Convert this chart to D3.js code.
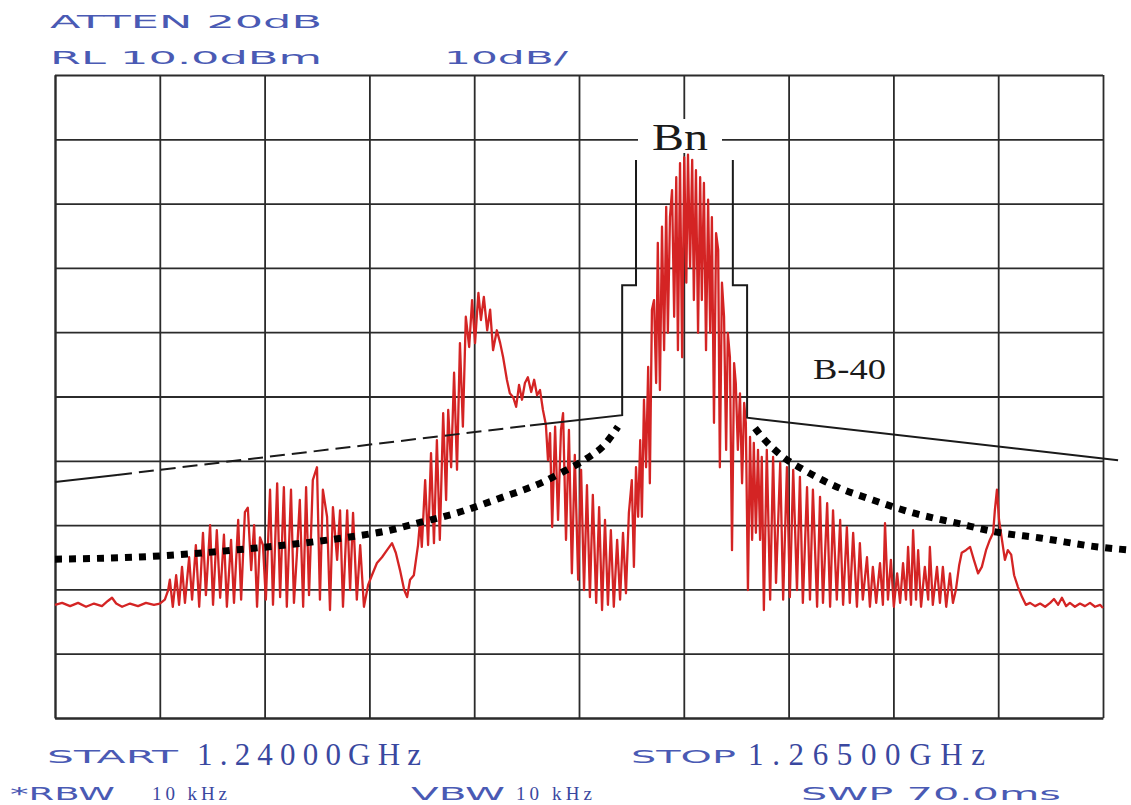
<!DOCTYPE html>
<html>
<head>
<meta charset="utf-8">
<script src="https://cdn.jsdelivr.net/npm/d3@7"></script>
<style>
  body { margin: 0; background: #fff; }
  svg { display: block; }
  .grid line { stroke: #2b2b2b; stroke-width: 1.8; }
  .grid path { stroke: #2b2b2b; stroke-width: 2; }
  .ana { font-family: "DejaVu Sans", sans-serif; fill: #4a5ab4; font-size: 18px; }
  .num { font-family: "Liberation Serif", serif; fill: #3a48a0; }
  .note { font-family: "Liberation Serif", serif; fill: #1a1a1a; }
</style>
</head>
<body>
<div id="chart"></div>
<script>
// analyzer settings
var startMHz = 1240, stopMHz = 1265;
var refLevel = 10, dbPerDiv = 10, divisions = 10;
var freqTicks = [1240, 1242.5, 1245, 1247.5, 1250, 1252.5, 1255, 1257.5, 1260, 1262.5, 1265];
var levelTicks = [10, 0, -10, -20, -30, -40, -50, -60, -70, -80, -90];

// measured trace [MHz, dBm]
var trace = [
  [1240.00,-72.4],[1240.17,-72.1],[1240.36,-72.6],[1240.55,-72.1],[1240.74,-72.7],[1240.93,-72.2],
  [1241.12,-72.6],[1241.26,-71.8],[1241.36,-71.3],[1241.46,-72.2],[1241.60,-72.7],[1241.79,-72.2],
  [1241.98,-72.6],[1242.17,-72.1],[1242.36,-72.4],[1242.50,-72.2],[1242.62,-71.6],
  [1242.70,-70.1],[1242.74,-68.5],[1242.81,-72.7],[1242.89,-67.8],[1242.96,-72.4],[1243.03,-66.5],
  [1243.10,-72.1],[1243.20,-65.0],[1243.27,-71.6],[1243.36,-63.1],[1243.44,-72.7],[1243.53,-61.2],
  [1243.60,-70.9],[1243.70,-60.0],[1243.77,-72.4],[1243.86,-60.8],[1243.94,-71.3],[1244.03,-61.5],
  [1244.10,-72.7],[1244.20,-62.3],[1244.27,-72.1],[1244.37,-59.2],[1244.44,-71.6],[1244.53,-58.0],
  [1244.60,-57.3],[1244.68,-67.0],[1244.75,-60.0],[1244.82,-72.7],[1244.89,-61.9],[1244.96,-63.1],
  [1245.03,-71.6],[1245.13,-54.5],[1245.20,-72.4],[1245.30,-53.5],[1245.37,-71.2],[1245.46,-54.1],
  [1245.53,-72.7],[1245.63,-54.5],[1245.70,-72.1],[1245.77,-64.6],[1245.84,-56.1],[1245.92,-72.7],
  [1245.99,-54.1],[1246.06,-70.9],[1246.15,-53.0],[1246.25,-51.0],[1246.32,-71.6],[1246.39,-54.5],
  [1246.49,-58.7],[1246.56,-73.2],[1246.63,-57.2],[1246.73,-65.4],[1246.80,-57.7],[1246.87,-72.7],
  [1246.97,-57.7],[1247.04,-70.1],[1247.11,-58.1],[1247.20,-71.6],[1247.28,-63.1],[1247.37,-72.7],
  [1247.47,-69.3],[1247.56,-67.8],[1247.68,-65.9],[1247.80,-65.0],[1247.92,-63.9],[1248.04,-62.8],
  [1248.13,-64.3],[1248.23,-67.0],[1248.33,-70.1],[1248.40,-71.2],[1248.47,-68.5],[1248.56,-67.8],
  [1248.66,-63.1],
  [1248.71,-59.2],[1248.75,-63.4],[1248.83,-53.0],[1248.90,-63.1],[1248.97,-48.8],[1249.04,-62.8],
  [1249.11,-46.8],[1249.18,-62.3],[1249.26,-42.6],[1249.33,-56.1],[1249.38,-42.1],[1249.45,-51.0],
  [1249.52,-36.3],[1249.59,-51.4],[1249.66,-31.7],[1249.73,-44.7],[1249.80,-27.6],[1249.88,-32.3],
  [1249.95,-25.0],[1250.02,-31.7],[1250.10,-23.9],[1250.16,-28.1],[1250.23,-24.5],[1250.31,-29.7],
  [1250.38,-26.5],[1250.45,-32.8],[1250.54,-29.7],[1250.62,-31.7],[1250.69,-33.9],[1250.78,-37.4],
  [1250.85,-39.5],[1250.93,-40.1],[1251.00,-41.6],[1251.07,-38.2],[1251.14,-40.5],[1251.21,-37.9],
  [1251.28,-37.0],[1251.36,-39.3],[1251.43,-37.4],[1251.50,-39.8],[1251.57,-39.0],[1251.64,-42.1],
  [1251.71,-44.4],[1251.76,-49.9],[1251.81,-45.7],[1251.86,-60.3],[1251.93,-44.7],[1252.00,-59.2],
  [1252.07,-45.2],[1252.12,-42.6],[1252.19,-62.3],[1252.26,-45.2],[1252.33,-67.5],[1252.40,-49.1],
  [1252.48,-68.5],[1252.55,-51.4],[1252.62,-70.1],[1252.69,-53.8],[1252.76,-71.2],[1252.83,-55.3],
  [1252.91,-72.1],[1252.98,-57.2],[1253.05,-73.2],[1253.12,-59.2],[1253.19,-72.4],[1253.26,-60.8],
  [1253.33,-72.7],[1253.41,-62.3],[1253.48,-71.6],[1253.55,-61.2],[1253.62,-70.6],[1253.69,-58.1],
  [1253.76,-53.0],[1253.81,-66.5],[1253.86,-51.0],[1253.91,-58.7],[1253.96,-46.8],[1254.00,-58.7],
  [1254.05,-40.5],[1254.10,-51.0],[1254.15,-35.4],[1254.19,-53.5],[1254.24,-26.5],[1254.29,-25.0],
  [1254.34,-37.9],[1254.38,-16.1],[1254.43,-39.0],[1254.48,-13.6],[1254.53,-32.8],[1254.58,-10.5],
  [1254.62,-30.1],[1254.67,-12.1],[1254.72,-7.9],[1254.77,-27.6],[1254.82,-5.9],[1254.86,-32.8],
  [1254.91,-3.7],[1254.96,-33.9],[1255.01,-2.8],[1255.06,-22.3],[1255.10,-2.4],[1255.15,-19.9],
  [1255.20,-3.2],[1255.24,-25.0],[1255.29,-4.8],[1255.34,-30.1],[1255.39,-5.9],[1255.43,-25.0],
  [1255.48,-6.8],[1255.53,-32.8],[1255.58,-9.4],[1255.63,-30.1],[1255.67,-12.1],[1255.72,-44.1],
  [1255.77,-14.6],[1255.82,-17.2],[1255.86,-51.0],[1255.91,-22.3],[1255.96,-27.6],[1256.01,-48.3],
  [1256.05,-30.1],[1256.10,-33.9],[1256.15,-63.9],[1256.20,-34.8],[1256.24,-37.9],[1256.29,-48.3],
  [1256.34,-39.5],[1256.39,-53.5],[1256.44,-41.0],[1256.48,-44.1],[1256.53,-70.1],[1256.58,-46.3],
  [1256.63,-62.3],[1256.67,-47.2],[1256.72,-61.2],[1256.77,-48.3],[1256.82,-62.3],[1256.86,-49.4],
  [1256.91,-73.2],
  [1256.98,-48.3],[1257.06,-71.6],[1257.13,-49.4],[1257.20,-69.0],[1257.30,-50.3],[1257.37,-71.6],
  [1257.46,-51.0],[1257.53,-71.2],[1257.61,-51.4],[1257.70,-70.1],[1257.77,-52.5],[1257.84,-72.1],
  [1257.94,-54.1],[1258.01,-71.6],[1258.08,-54.5],[1258.18,-72.7],[1258.25,-55.6],[1258.32,-72.1],
  [1258.42,-56.6],[1258.49,-72.7],[1258.56,-57.7],[1258.65,-71.6],[1258.73,-59.2],[1258.80,-72.4],
  [1258.89,-60.3],[1258.96,-72.1],[1259.04,-61.2],[1259.13,-72.7],[1259.20,-62.8],[1259.27,-71.6],
  [1259.37,-65.0],[1259.44,-72.7],[1259.51,-66.5],[1259.59,-72.1],[1259.68,-65.9],[1259.75,-72.4],
  [1259.80,-59.7],[1259.87,-71.6],[1259.94,-65.4],[1260.01,-72.7],[1260.09,-67.5],[1260.16,-72.1],
  [1260.23,-65.9],[1260.30,-71.6],[1260.35,-63.4],[1260.42,-72.4],[1260.47,-60.8],[1260.54,-71.6],
  [1260.59,-63.9],[1260.66,-72.7],[1260.75,-66.5],[1260.83,-71.6],[1260.87,-63.4],[1260.94,-72.4],
  [1261.04,-66.5],[1261.11,-72.1],[1261.18,-66.5],[1261.26,-72.7],[1261.35,-67.5],[1261.42,-72.1],
  [1261.49,-70.1],[1261.57,-66.2],[1261.63,-64.3],[1261.73,-63.9],[1261.83,-63.4],[1261.92,-65.4],
  [1262.02,-67.5],[1262.11,-66.5],[1262.21,-63.9],[1262.30,-62.3],[1262.38,-61.2],[1262.42,-57.7],
  [1262.47,-54.5],[1262.52,-59.2],[1262.59,-62.3],[1262.66,-65.4],[1262.73,-63.9],[1262.81,-64.6],
  [1262.88,-67.8],[1262.97,-69.6],[1263.07,-71.2],[1263.16,-72.4],[1263.26,-72.1],[1263.38,-72.6],
  [1263.50,-72.2],[1263.62,-72.7],[1263.74,-72.1],[1263.83,-71.5],[1263.93,-72.4],[1264.02,-71.3],
  [1264.12,-72.6],[1264.21,-72.1],[1264.33,-72.7],[1264.45,-72.2],[1264.57,-72.6],[1264.69,-72.1],
  [1264.81,-72.7],[1264.93,-72.4],[1265.00,-72.9]
];

// emission mask (solid / dashed parts)
var maskLeftSolidA = [[1240.00,-53.3],[1241.48,-52.2]];
var maskLeftDashed = [[1241.48,-52.2],[1251.33,-44.5]];
var maskLeftSolidB = [[1251.33,-44.5],[1253.53,-42.9],[1253.53,-22.7],[1253.86,-22.7],[1253.86,-3.2]];
var maskRight = [[1256.17,-3.2],[1256.17,-22.7],[1256.51,-22.7],[1256.51,-43.3],[1265.36,-49.9]];

// dotted limit curves
var limitLeft = [[1240.00,-65.3],[1242.50,-64.8],[1244.58,-63.7],[1245.92,-62.8],[1246.97,-61.9],
  [1247.99,-60.8],[1248.64,-59.7],[1249.59,-58.1],[1250.62,-55.8],[1251.64,-53.3],[1252.21,-51.4],
  [1252.52,-50.3],[1252.81,-49.1],[1253.05,-47.9],[1253.29,-46.0],[1253.43,-44.7]];
var limitRight = [[1256.70,-44.9],[1256.87,-46.3],[1257.37,-49.4],[1257.94,-51.7],[1258.56,-53.8],
  [1259.51,-56.1],[1260.47,-58.1],[1261.52,-59.7],[1262.47,-61.1],[1263.50,-62.0],[1264.88,-63.4],
  [1265.67,-63.9]];

var headerLines = ["ATTEN 20dB", "RL 10.0dBm", "10dB/"];
var footerLabels = ["START", "1.24000GHz", "STOP", "1.26500GHz", "*RBW", "10 kHz", "VBW", "10 kHz", "SWP 70.0ms"];

var W = 1131, H = 805;
var margin = {top: 75, left: 55, right: 28, bottom: 87};
var width = W - margin.left - margin.right,
    height = H - margin.top - margin.bottom;

var svg = d3.select("#chart").append("svg")
    .attr("width", W).attr("height", H);

var x = d3.scaleLinear().domain([startMHz, stopMHz]).range([margin.left, margin.left + width]);
var y = d3.scaleLinear().domain([refLevel - dbPerDiv * divisions, refLevel]).range([margin.top + height, margin.top]);

// graticule
svg.append("g").attr("class", "grid")
  .attr("transform", "translate(0," + (margin.top + height) + ")")
  .call(d3.axisBottom(x).tickValues(freqTicks).tickSize(-height).tickFormat("").tickSizeOuter(0));
svg.append("g").attr("class", "grid")
  .attr("transform", "translate(" + margin.left + ",0)")
  .call(d3.axisLeft(y).tickValues(levelTicks).tickSize(-width).tickFormat("").tickSizeOuter(0));

var line = d3.line().x(function(d) { return x(d[0]); }).y(function(d) { return y(d[1]); });

// Bn label with white backing cutting the graticule
var bn = svg.append("text").attr("class", "note")
  .attr("x", 680).attr("y", 150)
  .attr("text-anchor", "middle")
  .attr("textLength", 56).attr("lengthAdjust", "spacingAndGlyphs")
  .style("font-size", "38px")
  .text("Bn");
var bb = bn.node().getBBox();
svg.insert("rect", function() { return bn.node(); })
  .attr("x", bb.x - 14).attr("y", bb.y + 3)
  .attr("width", bb.width + 28).attr("height", bb.height - 8)
  .attr("fill", "#fff");

// spectrum trace
svg.append("path").datum(trace)
  .attr("fill", "none")
  .attr("stroke", "#d42424")
  .attr("stroke-width", 2.3)
  .attr("stroke-linejoin", "round")
  .attr("d", line);

// mask
[maskLeftSolidA, maskLeftSolidB, maskRight].forEach(function(seg) {
  svg.append("path").datum(seg)
    .attr("fill", "none").attr("stroke", "#1a1a1a").attr("stroke-width", 2)
    .attr("d", line);
});
svg.append("path").datum(maskLeftDashed)
  .attr("fill", "none").attr("stroke", "#1a1a1a").attr("stroke-width", 2)
  .attr("stroke-dasharray", "15,7")
  .attr("d", line);

// dotted limit curves
var curve = d3.line().curve(d3.curveMonotoneX)
  .x(function(d) { return x(d[0]); }).y(function(d) { return y(d[1]); });
[limitLeft, limitRight].forEach(function(seg) {
  svg.append("path").datum(seg)
    .attr("fill", "none").attr("stroke", "#000").attr("stroke-width", 7)
    .attr("stroke-dasharray", "7,7")
    .attr("d", curve);
});

svg.append("text").attr("class", "note")
  .attr("x", 813).attr("y", 379)
  .attr("textLength", 73).attr("lengthAdjust", "spacingAndGlyphs")
  .style("font-size", "30px")
  .text("B-40");

// header annotations
var headerPos = [[50, 28, 272], [50, 64, 272], [444, 64, 124]];
headerLines.forEach(function(t, i) {
  svg.append("text").attr("class", "ana")
    .attr("x", headerPos[i][0]).attr("y", headerPos[i][1])
    .attr("textLength", headerPos[i][2]).attr("lengthAdjust", "spacingAndGlyphs")
    .text(t);
});

// footer annotations: [x, y, length, serif, size]
var footerPos = [
  [47, 763, 131, false, 18], [197, 765, 224, true, 31],
  [631, 763, 105, false, 18], [748, 765, 237, true, 31],
  [10, 800, 105, false, 18], [152, 800, 75, true, 19],
  [411, 800, 94, false, 18], [516, 800, 76, true, 19],
  [801, 800, 260, false, 18]
];
footerLabels.forEach(function(t, i) {
  var p = footerPos[i];
  svg.append("text").attr("class", p[3] ? "num" : "ana")
    .attr("x", p[0]).attr("y", p[1])
    .attr("textLength", p[2])
    .attr("lengthAdjust", p[3] ? "spacing" : "spacingAndGlyphs")
    .style("font-size", p[4] + "px")
    .text(t);
});
</script>
</body>
</html>
